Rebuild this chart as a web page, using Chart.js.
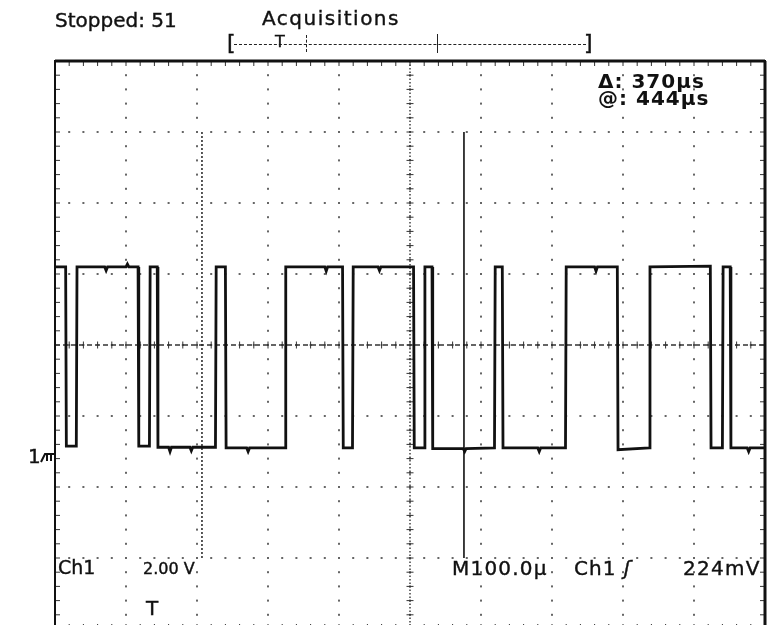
<!DOCTYPE html>
<html>
<head>
<meta charset="utf-8">
<script src="https://cdn.jsdelivr.net/npm/chart.js@4.4.0/dist/chart.umd.min.js"></script>
<style>
  body { margin: 0; background: #fff; overflow: hidden; width: 779px; height: 625px; position: relative; }
  #scope { position: absolute; left: 0; top: 0; }
  .lbl { position: absolute; font-family: "DejaVu Sans", sans-serif; color: #111; line-height: 1; white-space: nowrap; -webkit-text-stroke: 0.4px #111; }
  .big { font-size: 20px; }
  .mid { font-size: 16px; }
  .bold { font-weight: bold; -webkit-text-stroke: 0; }
  .rec { position: absolute; border-top: 1.5px dashed #222; }
  .tick { position: absolute; border-left: 1.5px solid #222; }
</style>
</head>
<body>
<canvas id="scope" width="779" height="632"></canvas>

<!-- top status line -->
<div class="lbl big" style="left:55px; top:10px;">Stopped: 51</div>
<div class="lbl big" style="left:262px; top:8px; letter-spacing:1.5px;">Acquisitions</div>

<!-- record view bar -->
<div class="lbl" style="left:227px; top:32px; font-size:22px;">[</div>
<div class="lbl" style="left:584px; top:32px; font-size:22px;">]</div>
<div class="rec" style="left:234px; top:44px; width:352px;"></div>
<div class="lbl mid" style="left:275px; top:34px;">T</div>
<div class="tick" style="left:306px; top:35px; height:17px; border-left-style:dashed;"></div>
<div class="tick" style="left:437px; top:34px; height:19px;"></div>

<!-- cursor readout -->
<div class="lbl big bold" style="left:598px; top:71px; letter-spacing:1px;">&Delta;: 370&micro;s</div>
<div class="lbl big bold" style="left:598px; top:88px; letter-spacing:1px;">@: 444&micro;s</div>

<!-- ground marker -->
<div class="lbl big" style="left:28px; top:446px;">1</div>
<svg style="position:absolute; left:40px; top:448px;" width="16" height="16">
  <path d="M1 14 L5 6 L14 6 M7 6 L7 13 M11 6 L11 13" stroke="#111" stroke-width="2" fill="none"/>
</svg>

<!-- bottom readouts -->
<div class="lbl" style="left:58px; top:558px; font-size:19px;">Ch1</div>
<div class="lbl mid" style="left:143px; top:561px;">2.00 V</div>
<div class="lbl big" style="left:452px; top:558px; letter-spacing:1.2px;">M100.0&micro;</div>
<div class="lbl big" style="left:574px; top:558px; letter-spacing:1px;">Ch1 <i>&#643;</i></div>
<div class="lbl big" style="left:683px; top:558px; letter-spacing:1.3px;">224mV</div>
<div class="lbl big" style="left:146px; top:598px;">T</div>

<script>
// horizontal: 100 us/div, 10 divisions ; vertical: 2 V/div, 8 divisions, ground 1.5 div below centre
const timeMin = 0, timeMax = 1000;
const voltMin = -5, voltMax = 11;
const timeDivs = [0, 100, 200, 300, 400, 500, 600, 700, 800, 900, 1000];
const voltDivs = [-5, -3, -1, 1, 3, 5, 7, 9, 11];
const timeMinor = 20, voltMinor = 0.4;
const timeCentre = 500, voltCentre = 3;

// Ch1 trace (time in us, level in V)
const traceTime = [0, 15, 16, 30, 31, 70, 72, 74, 100, 102, 104, 117, 118, 133, 134, 144,
  145, 160, 162, 164, 190, 192, 194, 226, 227, 240, 241, 270, 272, 274, 324, 325,
  380, 382, 384, 405, 406, 419, 420, 455, 457, 459, 505, 506, 520, 521, 531, 532,
  575, 577, 579, 619, 620, 630, 631, 680, 682, 684, 719, 720, 760, 762, 764, 792,
  793, 837, 838, 923, 924, 940, 941, 951, 952, 975, 977, 979, 1000];
const traceVolt = [5.2, 5.2, 0.15, 0.15, 5.2, 5.2, 5.1, 5.2, 5.2, 5.28, 5.2, 5.2, 0.15, 0.15, 5.2, 5.2,
  0.12, 0.12, 0.0, 0.12, 0.12, 0.02, 0.12, 0.12, 5.2, 5.2, 0.1, 0.1, 0.0, 0.1, 0.1, 5.2,
  5.2, 5.08, 5.2, 5.2, 0.1, 0.1, 5.2, 5.2, 5.1, 5.2, 5.2, 0.1, 0.1, 5.2, 5.2, 0.08,
  0.08, 0.0, 0.08, 0.1, 5.2, 5.2, 0.1, 0.1, 0.0, 0.1, 0.1, 5.2, 5.2, 5.08, 5.2, 5.2,
  0.05, 0.1, 5.2, 5.22, 0.1, 0.1, 5.2, 5.2, 0.1, 0.1, 0.0, 0.1, 0.1];

// time cursors (us) and their vertical extent (V)
const cursorTimes = [207, 576];
const cursorSpan = [9, -3];

const trace = traceTime.map((t, i) => ({ x: t, y: traceVolt[i] }));
const cursorLine = (t) => cursorSpan.map((v) => ({ x: t, y: v }));

// oscilloscope graticule, drawn through the chart scales
const graticule = {
  id: "graticule",
  beforeDatasetsDraw(chart) {
    const { ctx, chartArea: a, scales: { x, y } } = chart;
    ctx.save();
    // dotted major lines
    ctx.fillStyle = "#666";
    timeDivs.forEach((t) => {
      const px = x.getPixelForValue(t);
      for (let v = voltMin; v <= voltMax + 1e-6; v += voltMinor) {
        ctx.fillRect(px - 1, y.getPixelForValue(v) - 1, 2, 2);
      }
    });
    voltDivs.forEach((v) => {
      const py = y.getPixelForValue(v);
      for (let t = timeMin; t <= timeMax + 1e-6; t += timeMinor) {
        ctx.fillRect(x.getPixelForValue(t) - 1, py - 1, 2, 2);
      }
    });
    // centre cross with minor ticks
    const cx = x.getPixelForValue(timeCentre);
    const cy = y.getPixelForValue(voltCentre);
    ctx.strokeStyle = "#333";
    ctx.lineWidth = 1.4;
    ctx.setLineDash([5, 3]);
    ctx.beginPath();
    ctx.moveTo(a.left, cy);
    ctx.lineTo(a.right, cy);
    ctx.stroke();
    ctx.setLineDash([1.5, 2]);
    ctx.beginPath();
    ctx.moveTo(cx, a.top);
    ctx.lineTo(cx, a.bottom);
    ctx.stroke();
    ctx.setLineDash([]);
    ctx.lineWidth = 1;
    ctx.beginPath();
    for (let t = timeMin; t <= timeMax + 1e-6; t += timeMinor) {
      const px = x.getPixelForValue(t);
      ctx.moveTo(px, cy - 3.5);
      ctx.lineTo(px, cy + 3.5);
      ctx.moveTo(px, a.top);
      ctx.lineTo(px, a.top + 5);
      ctx.moveTo(px, a.bottom);
      ctx.lineTo(px, a.bottom - 5);
    }
    for (let v = voltMin; v <= voltMax + 1e-6; v += voltMinor) {
      const py = y.getPixelForValue(v);
      ctx.moveTo(cx - 3.5, py);
      ctx.lineTo(cx + 3.5, py);
      ctx.moveTo(a.left, py);
      ctx.lineTo(a.left + 5, py);
      ctx.moveTo(a.right, py);
      ctx.lineTo(a.right - 5, py);
    }
    ctx.stroke();
    // frame
    ctx.strokeStyle = "#111";
    ctx.lineWidth = 2;
    ctx.strokeRect(a.left, a.top, a.right - a.left, a.bottom - a.top);
    ctx.lineWidth = 3;
    ctx.beginPath();
    ctx.moveTo(a.left, a.top);
    ctx.lineTo(a.right, a.top);
    ctx.moveTo(a.right, a.top);
    ctx.lineTo(a.right, a.bottom);
    ctx.stroke();
    ctx.restore();
  },
};

const ctx = document.getElementById("scope").getContext("2d");
new Chart(ctx, {
  type: "line",
  data: {
    datasets: [
      {
        label: "Ch1",
        data: trace,
        borderColor: "#111",
        borderWidth: 2.8,
        pointRadius: 0,
        tension: 0,
      },
      {
        label: "cursor 1",
        data: cursorLine(cursorTimes[0]),
        borderColor: "#222",
        borderWidth: 1.5,
        borderDash: [2, 2],
        pointRadius: 0,
      },
      {
        label: "cursor 2",
        data: cursorLine(cursorTimes[1]),
        borderColor: "#111",
        borderWidth: 1.6,
        pointRadius: 0,
      },
    ],
  },
  options: {
    responsive: false,
    animation: false,
    layout: { padding: { left: 55, right: 14, top: 61, bottom: 3 } },
    plugins: { legend: { display: false }, tooltip: { enabled: false } },
    scales: {
      x: { type: "linear", min: timeMin, max: timeMax, display: false },
      y: { min: voltMin, max: voltMax, display: false },
    },
  },
  plugins: [graticule],
});
</script>
</body>
</html>
